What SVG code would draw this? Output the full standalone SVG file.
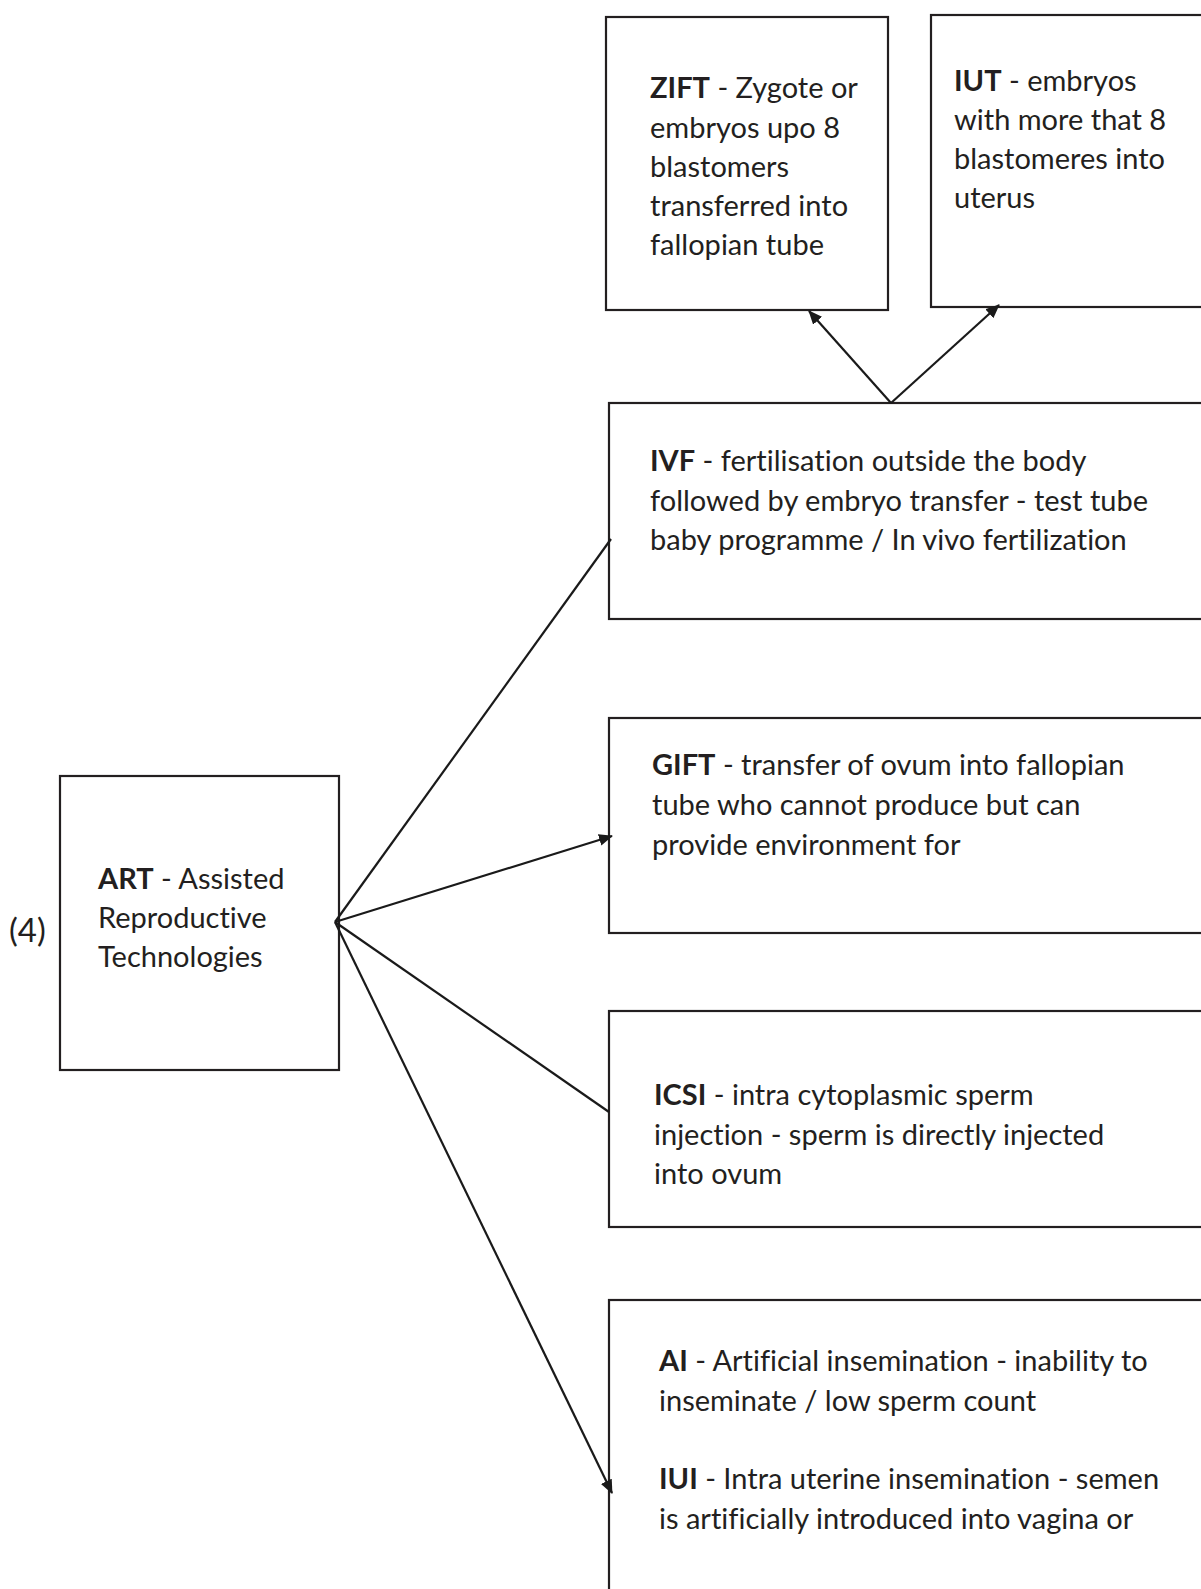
<svg xmlns="http://www.w3.org/2000/svg" width="1201" height="1589" viewBox="0 0 1201 1589">
<style>
.box{fill:#fff;stroke:#231f20;stroke-width:2.2}
.t{font-family:Lato,"Open Sans",sans-serif;font-size:29px;fill:#231f20;font-variant-ligatures:none}
.b{font-weight:bold}
.c{stroke:#1a1a1a;stroke-width:2.2;fill:none}
</style>
<defs>
<marker id="ah" markerUnits="userSpaceOnUse" markerWidth="14" markerHeight="12" refX="13" refY="6" orient="auto">
<path d="M0,0 L14,6 L0,12 Z" fill="#1a1a1a"/>
</marker>
</defs>
<rect width="1201" height="1589" fill="#fff"/>
<text class="t" x="9" y="942" style="font-size:33px">(4)</text>
<g id="art">
<rect class="box" x="60" y="776" width="279" height="294"/>
<text class="t"><tspan x="98" y="889"><tspan class="b">ART</tspan> - Assisted</tspan><tspan x="98" y="928">Reproductive</tspan><tspan x="98" y="967">Technologies</tspan></text>
</g>
<g id="zift">
<rect class="box" x="606" y="17" width="282" height="293"/>
<text class="t"><tspan x="650" y="98"><tspan class="b">ZIFT</tspan> - Zygote or</tspan><tspan x="650" y="138">embryos upo 8</tspan><tspan x="650" y="177">blastomers</tspan><tspan x="650" y="216">transferred into</tspan><tspan x="650" y="255">fallopian tube</tspan></text>
</g>
<g id="iut">
<rect class="box" x="931" y="15" width="290" height="292"/>
<text class="t"><tspan x="954" y="91"><tspan class="b">IUT</tspan> - embryos</tspan><tspan x="954" y="130">with more that 8</tspan><tspan x="954" y="169">blastomeres into</tspan><tspan x="954" y="208">uterus</tspan></text>
</g>
<g id="ivf">
<rect class="box" x="609" y="403" width="612" height="216"/>
<text class="t"><tspan x="650" y="471"><tspan class="b">IVF</tspan> - fertilisation outside the body</tspan><tspan x="650" y="511">followed by embryo transfer - test tube</tspan><tspan x="650" y="550">baby programme / In vivo fertilization</tspan></text>
</g>
<g id="gift">
<rect class="box" x="609" y="718" width="612" height="215"/>
<text class="t"><tspan x="652" y="775"><tspan class="b">GIFT</tspan> - transfer of ovum into fallopian</tspan><tspan x="652" y="815">tube who cannot produce but can</tspan><tspan x="652" y="855">provide environment for</tspan></text>
</g>
<g id="icsi">
<rect class="box" x="609" y="1011" width="612" height="216"/>
<text class="t"><tspan x="654" y="1105"><tspan class="b">ICSI</tspan> - intra cytoplasmic sperm</tspan><tspan x="654" y="1145">injection - sperm is directly injected</tspan><tspan x="654" y="1184">into ovum</tspan></text>
</g>
<g id="ai">
<rect class="box" x="609" y="1300" width="612" height="320"/>
<text class="t"><tspan x="659" y="1371"><tspan class="b">AI</tspan> - Artificial insemination - inability to</tspan><tspan x="659" y="1411">inseminate / low sperm count</tspan><tspan x="659" y="1489"><tspan class="b">IUI</tspan> - Intra uterine insemination - semen</tspan><tspan x="659" y="1529">is artificially introduced into vagina or</tspan></text>
</g>
<g id="connectors">
<line class="c" x1="891" y1="403" x2="809" y2="311" marker-end="url(#ah)"/>
<line class="c" x1="891" y1="403" x2="999" y2="305" marker-end="url(#ah)"/>
<line class="c" x1="335" y1="922" x2="611" y2="539"/>
<line class="c" x1="335" y1="922" x2="612" y2="836" marker-end="url(#ah)"/>
<line class="c" x1="335" y1="922" x2="609" y2="1112"/>
<line class="c" x1="335" y1="922" x2="612" y2="1493" marker-end="url(#ah)"/>
</g>
</svg>
